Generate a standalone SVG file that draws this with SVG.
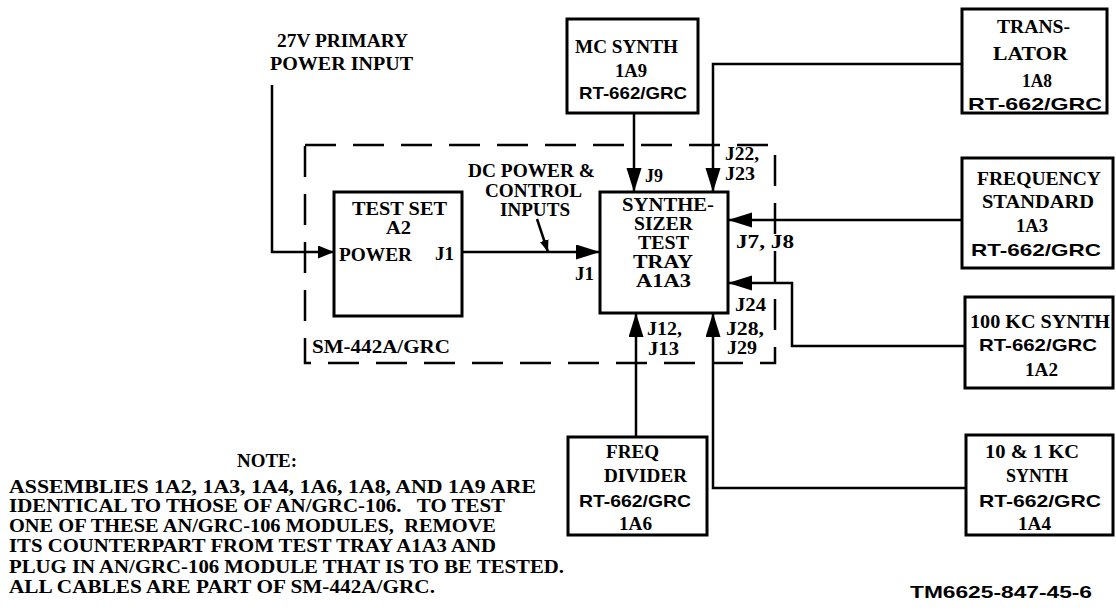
<svg xmlns="http://www.w3.org/2000/svg" width="1116" height="615" viewBox="0 0 1116 615">
<style>
.t{font-family:"Liberation Serif",serif;font-weight:bold;font-size:18px;fill:#000}
.s{font-family:"Liberation Sans",sans-serif;font-weight:bold;font-size:17px;fill:#000}
.box{fill:#fff;stroke:#000;stroke-width:3}
.wire{fill:none;stroke:#000;stroke-width:2.5}
.dash{fill:none;stroke:#000;stroke-width:2.5;stroke-dasharray:31 17}
</style>
<defs>
<marker id="ah" markerUnits="userSpaceOnUse" markerWidth="26" markerHeight="16" refX="24" refY="7.5" orient="auto"><path d="M0,0 L24,7.5 L0,15 Z" fill="#000"/></marker>
<marker id="ahs" markerUnits="userSpaceOnUse" markerWidth="18" markerHeight="14" refX="16" refY="6.5" orient="auto"><path d="M0,0 L16,6.5 L0,13 Z" fill="#000"/></marker>
<marker id="aht" markerUnits="userSpaceOnUse" markerWidth="14" markerHeight="10" refX="12" refY="4.5" orient="auto"><path d="M0,0 L12,4.5 L0,9 Z" fill="#000"/></marker>
</defs>
<rect width="1116" height="615" fill="#fff"/>

<g id="enclosure">
<rect class="dash" x="305" y="145" width="470" height="218"/>
<text class="t" x="312" y="353" textLength="138" lengthAdjust="spacingAndGlyphs" font-size="17">SM-442A/GRC</text>
</g>

<g id="connectors">
<path class="wire" d="M272,85 V252 H334" marker-end="url(#ahs)"/>
<path class="wire" d="M462,252 H600" marker-end="url(#ah)"/>
<path class="wire" d="M537,219 L548,252" marker-end="url(#aht)"/>
<path class="wire" d="M634,113 V192" marker-end="url(#ah)"/>
<path class="wire" d="M962,64 H713 V192" marker-end="url(#ah)"/>
<path class="wire" d="M962,220 H728" marker-end="url(#ah)"/>
<path class="wire" d="M965,346 H792 V283 H728" marker-end="url(#ah)"/>
<path class="wire" d="M966,488 H713 V313" marker-end="url(#ah)"/>
<path class="wire" d="M636,437 V313" marker-end="url(#ah)"/>
</g>

<g id="labels">
<text class="t" x="277" y="47" textLength="131" lengthAdjust="spacingAndGlyphs">27V PRIMARY</text>
<text class="t" x="270" y="70" textLength="143" lengthAdjust="spacingAndGlyphs">POWER INPUT</text>
<text class="t" x="468" y="177" textLength="127" lengthAdjust="spacingAndGlyphs" font-size="17">DC POWER &amp;</text>
<text class="t" x="485" y="197" textLength="97" lengthAdjust="spacingAndGlyphs" font-size="17">CONTROL</text>
<text class="t" x="500" y="216" textLength="70" lengthAdjust="spacingAndGlyphs" font-size="17">INPUTS</text>
<text class="t" x="575" y="280" textLength="19" lengthAdjust="spacingAndGlyphs" font-size="17">J1</text>
<text class="t" x="645" y="182" textLength="18" lengthAdjust="spacingAndGlyphs" font-size="17">J9</text>
<text class="t" x="725" y="160" textLength="34" lengthAdjust="spacingAndGlyphs" font-size="17">J22,</text>
<text class="t" x="725" y="180" textLength="30" lengthAdjust="spacingAndGlyphs" font-size="17">J23</text>
<text class="t" x="736" y="248" textLength="58" lengthAdjust="spacingAndGlyphs" font-size="17">J7, J8</text>
<text class="t" x="735" y="311" textLength="31" lengthAdjust="spacingAndGlyphs" font-size="17">J24</text>
<text class="t" x="726" y="335" textLength="38" lengthAdjust="spacingAndGlyphs" font-size="17">J28,</text>
<text class="t" x="727" y="354" textLength="30" lengthAdjust="spacingAndGlyphs" font-size="17">J29</text>
<text class="t" x="647" y="335" textLength="35" lengthAdjust="spacingAndGlyphs" font-size="17">J12,</text>
<text class="t" x="648" y="355" textLength="31" lengthAdjust="spacingAndGlyphs" font-size="17">J13</text>
</g>

<g id="test-set">
<rect class="box" x="334" y="192" width="128" height="124"/>
<text class="t" x="352" y="215" textLength="95" lengthAdjust="spacingAndGlyphs" font-size="15">TEST SET</text>
<text class="t" x="386" y="234" textLength="25" lengthAdjust="spacingAndGlyphs" font-size="15">A2</text>
<text class="t" x="339" y="261" textLength="73" lengthAdjust="spacingAndGlyphs" font-size="17">POWER</text>
<text class="t" x="435" y="260" textLength="19" lengthAdjust="spacingAndGlyphs" font-size="17">J1</text>
</g>

<g id="synth-tray">
<rect class="box" x="600" y="192" width="128" height="121"/>
<text class="t" x="622" y="211" textLength="92" lengthAdjust="spacingAndGlyphs" font-size="15">SYNTHE-</text>
<text class="t" x="634" y="230" textLength="59" lengthAdjust="spacingAndGlyphs" font-size="15">SIZER</text>
<text class="t" x="638" y="249" textLength="51" lengthAdjust="spacingAndGlyphs" font-size="15">TEST</text>
<text class="t" x="633" y="268" textLength="60" lengthAdjust="spacingAndGlyphs" font-size="15">TRAY</text>
<text class="t" x="636" y="287" textLength="55" lengthAdjust="spacingAndGlyphs" font-size="15">A1A3</text>
</g>

<g id="mc-synth">
<rect class="box" x="567" y="19" width="131" height="94"/>
<text class="t" x="575" y="53" textLength="103" lengthAdjust="spacingAndGlyphs">MC SYNTH</text>
<text class="t" x="615" y="77" textLength="32" lengthAdjust="spacingAndGlyphs">1A9</text>
<text class="s" x="579" y="99" textLength="108" lengthAdjust="spacingAndGlyphs">RT-662/GRC</text>
</g>

<g id="translator">
<rect class="box" x="962" y="9" width="145" height="104"/>
<text class="t" x="997" y="33" textLength="73" lengthAdjust="spacingAndGlyphs">TRANS-</text>
<text class="t" x="993" y="60" textLength="75" lengthAdjust="spacingAndGlyphs">LATOR</text>
<text class="t" x="1022" y="87" textLength="30" lengthAdjust="spacingAndGlyphs">1A8</text>
<text class="s" x="968" y="110" textLength="134" lengthAdjust="spacingAndGlyphs">RT-662/GRC</text>
</g>

<g id="freq-standard">
<rect class="box" x="962" y="158" width="151" height="110"/>
<text class="t" x="977" y="185" textLength="124" lengthAdjust="spacingAndGlyphs">FREQUENCY</text>
<text class="t" x="982" y="208" textLength="112" lengthAdjust="spacingAndGlyphs">STANDARD</text>
<text class="t" x="1016" y="232" textLength="32" lengthAdjust="spacingAndGlyphs">1A3</text>
<text class="s" x="971" y="256" textLength="130" lengthAdjust="spacingAndGlyphs">RT-662/GRC</text>
</g>

<g id="synth-100kc">
<rect class="box" x="965" y="297" width="148" height="91"/>
<text class="t" x="970" y="328" textLength="140" lengthAdjust="spacingAndGlyphs">100 KC SYNTH</text>
<text class="s" x="979" y="351" textLength="118" lengthAdjust="spacingAndGlyphs">RT-662/GRC</text>
<text class="t" x="1025" y="376" textLength="33" lengthAdjust="spacingAndGlyphs">1A2</text>
</g>

<g id="synth-10-1kc">
<rect class="box" x="966" y="435" width="147" height="100"/>
<text class="t" x="985" y="458" textLength="94" lengthAdjust="spacingAndGlyphs">10 &amp; 1 KC</text>
<text class="t" x="1006" y="482" textLength="62" lengthAdjust="spacingAndGlyphs">SYNTH</text>
<text class="s" x="979" y="507" textLength="122" lengthAdjust="spacingAndGlyphs">RT-662/GRC</text>
<text class="t" x="1018" y="530" textLength="33" lengthAdjust="spacingAndGlyphs">1A4</text>
</g>

<g id="freq-divider">
<rect class="box" x="568" y="437" width="139" height="98"/>
<text class="t" x="606" y="458" textLength="53" lengthAdjust="spacingAndGlyphs">FREQ</text>
<text class="t" x="604" y="482" textLength="83" lengthAdjust="spacingAndGlyphs">DIVIDER</text>
<text class="s" x="579" y="507" textLength="112" lengthAdjust="spacingAndGlyphs">RT-662/GRC</text>
<text class="t" x="619" y="530" textLength="33" lengthAdjust="spacingAndGlyphs">1A6</text>
</g>

<g id="note">
<text class="t" x="237" y="467" textLength="60" lengthAdjust="spacingAndGlyphs">NOTE:</text>
<text class="t" x="9" y="493" textLength="527" lengthAdjust="spacingAndGlyphs">ASSEMBLIES 1A2, 1A3, 1A4, 1A6, 1A8, AND 1A9 ARE</text>
<text class="t" x="9" y="512" textLength="496" lengthAdjust="spacingAndGlyphs" xml:space="preserve">IDENTICAL TO THOSE OF AN/GRC-106.   TO TEST</text>
<text class="t" x="9" y="532" textLength="487" lengthAdjust="spacingAndGlyphs" xml:space="preserve">ONE OF THESE AN/GRC-106 MODULES,  REMOVE</text>
<text class="t" x="9" y="552" textLength="487" lengthAdjust="spacingAndGlyphs">ITS COUNTERPART FROM TEST TRAY A1A3 AND</text>
<text class="t" x="9" y="573" textLength="555" lengthAdjust="spacingAndGlyphs">PLUG IN AN/GRC-106 MODULE THAT IS TO BE TESTED.</text>
<text class="t" x="9" y="593" textLength="426" lengthAdjust="spacingAndGlyphs">ALL CABLES ARE PART OF SM-442A/GRC.</text>
</g>

<g id="figure-id">
<text class="s" x="910" y="598" textLength="182" lengthAdjust="spacingAndGlyphs" font-size="16">TM6625-847-45-6</text>
</g>
</svg>
